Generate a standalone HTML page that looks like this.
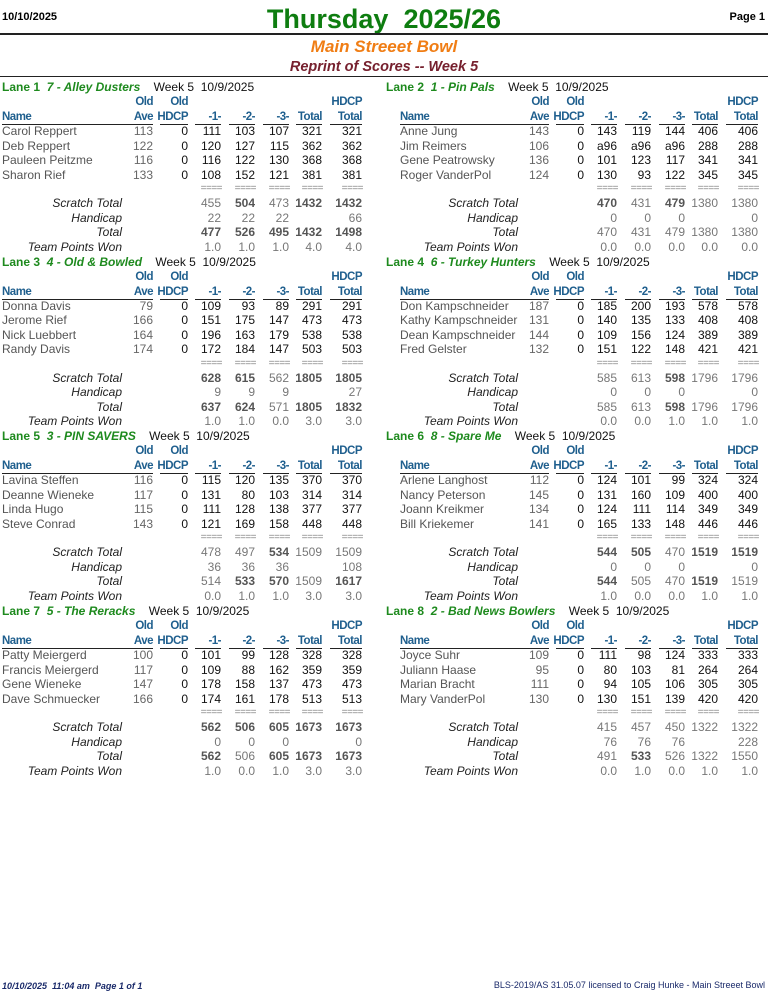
<!DOCTYPE html>
<html><head><meta charset="utf-8"><style>
body{margin:0;width:768px;height:991px;background:#fff;position:relative;overflow:hidden;font-family:"Liberation Sans",Arial,sans-serif}
.a{position:absolute;white-space:nowrap;line-height:14px;font-size:12px}
.r{text-align:right}
.hd{color:#1f5f8e;font-weight:bold;font-size:11.5px;letter-spacing:-0.5px}
.nm{color:#555}.av{color:#666}.sc{color:#111}
.lb{color:#222;font-style:italic}
.sm{color:#777}.smb{color:#555;font-weight:bold}
.eq{color:#888;font-size:10px;letter-spacing:-0.5px}
.ln{position:absolute;height:1px;background:#222}
</style></head><body>
<div class="a" style="left:2px;top:10px;font-weight:bold;font-size:11px">10/10/2025</div>
<div class="a" style="left:0;width:768px;top:2px;line-height:34px;text-align:center;font-size:27px;font-weight:bold;color:#0e7d10">Thursday&nbsp; 2025/26</div>
<div class="a r" style="right:3px;top:10px;font-weight:bold;font-size:11px">Page 1</div>
<div class="ln" style="left:0;width:768px;top:33px;height:2px"></div>
<div class="a" style="left:0;width:768px;top:37px;line-height:20px;text-align:center;font-size:17px;font-weight:bold;font-style:italic;color:#f07d14">Main Streeet Bowl</div>
<div class="a" style="left:0;width:768px;top:58px;line-height:18px;text-align:center;font-size:14.5px;font-weight:bold;font-style:italic;color:#76202e">Reprint of Scores -- Week 5</div>
<div class="ln" style="left:0;width:768px;top:76px"></div>
<div id="root"></div>
<div class="a" style="left:2px;top:979px;font-size:9px;font-weight:bold;font-style:italic;color:#1a2a6a">10/10/2025&nbsp; 11:04 am&nbsp; Page 1 of 1</div>
<div class="a r" style="right:3px;top:978px;font-size:9px;color:#1a2a6a">BLS-2019/AS 31.05.07 licensed to Craig Hunke - Main Streeet Bowl</div>
<script>
const laneNums=[1,2,3,4,5,6,7,8];
const teamNames=["7 - Alley Dusters","1 - Pin Pals","4 - Old & Bowled","6 - Turkey Hunters","3 - PIN SAVERS","8 - Spare Me","5 - The Reracks","2 - Bad News Bowlers"];
const playerNames=[["Carol Reppert","Deb Reppert","Pauleen Peitzme","Sharon Rief"],["Anne Jung","Jim Reimers","Gene Peatrowsky","Roger VanderPol"],["Donna Davis","Jerome Rief","Nick Luebbert","Randy Davis"],["Don Kampschneider","Kathy Kampschneider","Dean Kampschneider","Fred Gelster"],["Lavina Steffen","Deanne Wieneke","Linda Hugo","Steve Conrad"],["Arlene Langhost","Nancy Peterson","Joann Kreikmer","Bill Kriekemer"],["Patty Meiergerd","Francis Meiergerd","Gene Wieneke","Dave Schmuecker"],["Joyce Suhr","Juliann Haase","Marian Bracht","Mary VanderPol"]];
const playerAve=[[113,122,116,133],[143,106,136,124],[79,166,164,174],[187,131,144,132],[116,117,115,143],[112,145,134,141],[100,117,147,166],[109,95,111,130]];
const playerGames=[[["111","103","107"],["120","127","115"],["116","122","130"],["108","152","121"]],[["143","119","144"],["a96","a96","a96"],["101","123","117"],["130","93","122"]],[["109","93","89"],["151","175","147"],["196","163","179"],["172","184","147"]],[["185","200","193"],["140","135","133"],["109","156","124"],["151","122","148"]],[["115","120","135"],["131","80","103"],["111","128","138"],["121","169","158"]],[["124","101","99"],["131","160","109"],["124","111","114"],["165","133","148"]],[["101","99","128"],["109","88","162"],["178","158","137"],["174","161","178"]],[["111","98","124"],["80","103","81"],["94","105","106"],["130","151","139"]]];
const playerTotals=[[321,362,368,381],[406,288,341,345],[291,473,538,503],[578,408,389,421],[370,314,377,448],[324,400,349,446],[328,359,473,513],[333,264,305,420]];
// summary rows: "*" prefix = bold
const scratchRows=[["455","*504","473","*1432","*1432"],["*470","431","*479","1380","1380"],["*628","*615","562","*1805","*1805"],["585","613","*598","1796","1796"],["478","497","*534","1509","1509"],["*544","*505","470","*1519","*1519"],["*562","*506","*605","*1673","*1673"],["415","457","450","1322","1322"]];
const hdcpRows=[["22","22","22","","66"],["0","0","0","","0"],["9","9","9","","27"],["0","0","0","","0"],["36","36","36","","108"],["0","0","0","","0"],["0","0","0","","0"],["76","76","76","","228"]];
const totalRows=[["*477","*526","*495","*1432","*1498"],["470","431","479","1380","1380"],["*637","*624","571","*1805","*1832"],["585","613","*598","1796","1796"],["514","*533","*570","1509","*1617"],["*544","505","470","*1519","1519"],["*562","506","*605","*1673","*1673"],["491","*533","526","1322","1550"]];
const pointRows=[["1.0","1.0","1.0","4.0","4.0"],["0.0","0.0","0.0","0.0","0.0"],["1.0","1.0","0.0","3.0","3.0"],["0.0","0.0","1.0","1.0","1.0"],["0.0","1.0","1.0","3.0","3.0"],["1.0","0.0","0.0","1.0","1.0"],["1.0","0.0","1.0","3.0","3.0"],["0.0","1.0","0.0","1.0","1.0"]];

const root=document.getElementById('root');
function el(cls,x,y,txt,right){const d=document.createElement('div');d.className='a '+cls+(right?' r':'');
if(right){d.style.right=(768-x)+'px';}else d.style.left=x+'px';d.style.top=(y-7)+'px';d.innerHTML=txt;root.appendChild(d);return d;}
const colR=[153,188,221,255,289,322,362];
const colL=[130,160,195,229,263,296,330];
laneNums.forEach((ln,i)=>{
 const ox=(i%2)?396:0, base=80+Math.floor(i/2)*174.7;
 const g=document.createElement('div');g.style.position='absolute';
 
 
 root.appendChild(g);
 let h=el('',(i%2)?386:2,base+7,'<span style="color:#1e8a1e;font-weight:bold">Lane '+ln+'&nbsp; <i>'+teamNames[i].replace('&','&amp;')+'</i></span>&nbsp;&nbsp;&nbsp; <span style="color:#111">Week 5&nbsp; 10/9/2025</span>');
 
 
 const hy1=base+22,hy2=base+37;
 el('hd',ox+colR[0],hy1,'Old',1);el('hd',ox+colR[1],hy1,'Old',1);el('hd',ox+colR[6],hy1,'HDCP',1);
 el('hd',ox+2+(i%2?2:0),hy2,'Name');el('hd',ox+colR[0],hy2,'Ave',1);el('hd',ox+colR[1],hy2,'HDCP',1);
 ['-1-','-2-','-3-','Total','Total'].forEach((t,k)=>el('hd',ox+colR[k+2],hy2,t,1));
 const ul=(x1,x2)=>{const d=document.createElement('div');d.className='ln';d.style.left=x1+'px';d.style.width=(x2-x1)+'px';d.style.top=(base+44)+'px';root.appendChild(d);};
 ul(ox+2+(i%2?2:0),ox+colR[0]);for(let k=1;k<7;k++)ul(ox+colL[k],ox+colR[k]);
 for(let p=0;p<4;p++){const y=base+51+p*14.5;
  const n=el('nm',ox+2+(i%2?2:0),y,playerNames[i][p]);
  
  
  el('av',ox+colR[0],y,playerAve[i][p],1);el('sc',ox+colR[1],y,'0',1);
  playerGames[i][p].forEach((s,k)=>el('sc',ox+colR[k+2],y,s,1));
  el('sc',ox+colR[5],y,playerTotals[i][p],1);el('sc',ox+colR[6],y,playerTotals[i][p],1);}
 for(let k=2;k<7;k++)el('eq',ox+colR[k]+1,base+109,'====',1);
 const labels=['Scratch Total','Handicap','Total','Team Points Won'],rows=[scratchRows,hdcpRows,totalRows,pointRows];
 labels.forEach((lb,r)=>{const y=base+123+r*14.5;el('lb',ox+122,y,lb,1);
  rows[r][i].forEach((v,k)=>{if(!v)return;const b=v[0]=='*';el(b?'smb':'sm',ox+colR[k+2],y,b?v.slice(1):v,1);});});
});
</script>
</body></html>
